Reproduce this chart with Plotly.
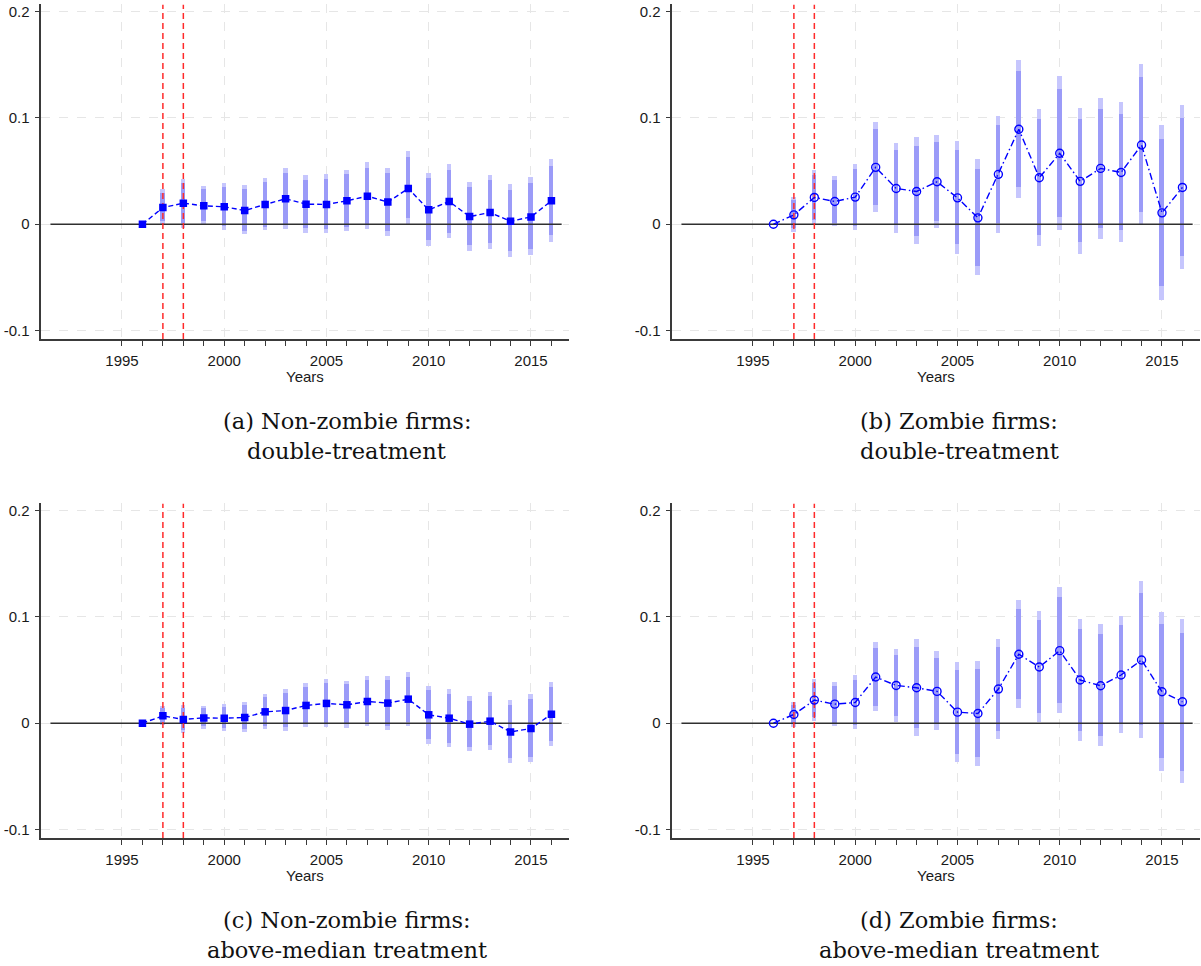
import plotly.graph_objects as go

# ---- data -------------------------------------------------------------
years = list(range(1996, 2017))
event_years = [1997, 1998]
label_years = [1995, 2000, 2005, 2010, 2015]
minor_years = [y for y in range(1996, 2017) if y % 5 != 0]
y_ticks = [-0.1, 0, 0.1, 0.2]
y_tick_text = ["-0.1", "0", "0.1", "0.2"]

# (a) Non-zombie firms: double-treatment
a_pt = [0, .0157, .0198, .0173, .0164, .0129, .0186, .0239, .0189, .0186, .022,
        .0264, .0208, .0336, .0135, .0214, .0072, .011, .0028, .0069, .022]
a_out_hi = [0, .0324, .0425, .0355, .038, .0365, .0428, .0522, .0459, .0465, .051,
            .0582, .0528, .0682, .0481, .056, .0393, .0462, .0374, .044, .0607]
a_in_hi = [0, .029, .0387, .0324, .035, .0327, .0393, .0478, .0415, .0425, .0469,
           .0528, .0478, .0629, .0428, .051, .0346, .0409, .0321, .038, .0547]
a_in_lo = [0, .0025, .0008, .0022, -.0022, -.007, -.003, -.0006, -.0044, -.0053, -.003,
           -.0006, -.007, .005, -.0154, -.0085, -.020, -.018, -.0258, -.0239, -.0107]
a_out_lo = [0, -.001, -.0038, -.0007, -.0063, -.010, -.0063, -.0047, -.0085, -.009, -.0069,
            -.005, -.0113, 0.0, -.021, -.0138, -.0258, -.0239, -.0314, -.0296, -.017]

# (b) Zombie firms: double-treatment
b_pt = [0, .0088, .0252, .0214, .0255, .0535, .0336, .0308, .0399, .0248, .006,
        .0469, .0893, .0437, .0667, .0403, .0525, .0487, .0745, .0107, .0346]
b_out_hi = [0, .0252, .0503, .045, .0566, .0959, .0761, .0814, .0836, .0777, .0607,
            .1016, .1535, .1082, .1387, .1088, .1186, .1145, .15, .0931, .1116]
b_in_hi = [0, .0223, .0462, .0412, .0519, .0893, .0692, .0733, .077, .0695, .0519,
           .0931, .1434, .0981, .127, .0981, .1082, .1035, .138, .0799, .0994]
b_in_lo = [0, -.0044, .0035, .001, -.0022, .0179, -.0013, -.0113, .0025, -.0195, -.040,
           .0003, .0349, -.0107, .006, -.017, -.0038, -.0063, .0107, -.0588, -.0305]
b_out_lo = [0, -.0075, 0.0, -.002, -.0063, .0107, -.0088, -.0195, -.0038, -.028, -.0484,
            -.0085, .0245, -.0208, -.0057, -.028, -.0142, -.0167, -.0013, -.072, -.0421]

# (c) Non-zombie firms: above-median treatment
c_pt = [0, .0069, .0035, .005, .0047, .0053, .0107, .0119, .0167, .0186, .0173,
        .0204, .0189, .0226, .0079, .0047, -.0009, .0019, -.0082, -.005, .0085]
c_out_hi = [0, .0157, .0167, .016, .0173, .0195, .027, .0318, .0377, .0412, .0396,
            .0437, .0437, .0475, .0349, .0314, .0248, .0292, .0214, .0274, .0384]
c_in_hi = [0, .0135, .0142, .0135, .0148, .0167, .0239, .0283, .034, .0371, .0362,
           .0399, .0399, .0434, .0305, .027, .0208, .0248, .0167, .0226, .0333]
c_in_lo = [0, .0003, -.0069, -.0035, -.0053, -.006, -.0028, -.0041, -.0006, 0.0, -.0016,
           .0006, -.0028, .0009, -.0154, -.0186, -.023, -.0211, -.033, -.0321, -.0167]
c_out_lo = [0, -.002, -.0094, -.006, -.0079, -.0088, -.006, -.0079, -.0041, -.0038, -.0053,
            -.0031, -.0069, -.0028, -.0198, -.023, -.027, -.0255, -.0377, -.0371, -.0217]

# (d) Zombie firms: above-median treatment
d_pt = [0, .0082, .0217, .0179, .0195, .0434, .0355, .0333, .0299, .0104, .0091,
        .0321, .0648, .0528, .0682, .0406, .0352, .0453, .0594, .0296, .0201]
d_out_hi = [0, .0195, .0412, .038, .0447, .0761, .0695, .0789, .0673, .0572, .0585,
            .0789, .1154, .1047, .1274, .0978, .0925, .1, .1336, .1044, .0972]
d_in_hi = [0, .017, .0377, .0346, .0406, .0704, .0638, .0714, .0613, .0497, .0506,
           .0714, .1072, .0965, .1179, .0884, .0836, .0915, .1217, .0925, .0846]
d_in_lo = [0, -.0013, .0053, 0.0, -.0019, .0157, .0066, -.0053, -.0009, -.0296, -.0324,
           -.0079, .022, .0088, .0186, -.0075, -.0126, -.0006, -.0025, -.0336, -.045]
d_out_lo = [0, -.0038, .0013, -.0028, -.0057, .011, .0009, -.0126, -.0072, -.0371, -.0403,
            -.0154, .0138, .0003, .0091, -.0167, -.0217, -.0094, -.0145, -.0456, -.0569]

captions = [
    ("(a) Non-zombie firms:", "double-treatment"),
    ("(b) Zombie firms:", "double-treatment"),
    ("(c) Non-zombie firms:", "above-median treatment"),
    ("(d) Zombie firms:", "above-median treatment"),
]

# ---- layout geometry (pixels) ------------------------------------------
W, H = 1201, 966
X_RANGE = [1991.054, 2016.874]
Y_RANGE = [-0.1079, 0.2066]
ZERO_SPAN = [1991.5, 2016.5]
col_px = [(41.3, 569.3), (672.3, 1200.3)]
row_px = [(2.5, 337.7), (502.5, 837.7)]
caption_x = [346.5, 959.0]

LIGHT = "#c6c6fd"
DARK = "#9b9bf8"
BLUE = "#0000ff"
AXIS_C = "#3a3a3a"
GRID_C = "#e6e6e6"
TICK_FONT = dict(family="Liberation Sans, Arial, sans-serif", size=15, color="#1a1a1a")
CAP_FONT = dict(family="DejaVu Serif, serif", size=22.5, color="#111111")

panels = [
    dict(pt=a_pt, out_lo=a_out_lo, out_hi=a_out_hi, in_lo=a_in_lo, in_hi=a_in_hi,
         symbol="square", dash="5px,3px", row=0, col=0),
    dict(pt=b_pt, out_lo=b_out_lo, out_hi=b_out_hi, in_lo=b_in_lo, in_hi=b_in_hi,
         symbol="circle-open", dash="7px,3px,1.5px,3px", row=0, col=1),
    dict(pt=c_pt, out_lo=c_out_lo, out_hi=c_out_hi, in_lo=c_in_lo, in_hi=c_in_hi,
         symbol="square", dash="5px,3px", row=1, col=0),
    dict(pt=d_pt, out_lo=d_out_lo, out_hi=d_out_hi, in_lo=d_in_lo, in_hi=d_in_hi,
         symbol="circle-open", dash="7px,3px,1.5px,3px", row=1, col=1),
]

fig = go.Figure()
annotations = []
layout_axes = {}
bar_w = 0.22

for i, p in enumerate(panels):
    n = i + 1
    xa = "x" if n == 1 else f"x{n}"
    ya = "y" if n == 1 else f"y{n}"
    x0p, x1p = col_px[p["col"]]
    y0p, y1p = row_px[p["row"]]

    # horizontal reference line at zero (drawn first, under the estimates)
    fig.add_trace(go.Scatter(
        x=ZERO_SPAN, y=[0, 0], mode="lines", line=dict(color="#303030", width=1.6),
        xaxis=xa, yaxis=ya, hoverinfo="skip"))
    # policy event markers
    for ev in event_years:
        fig.add_trace(go.Scatter(
            x=[ev, ev], y=Y_RANGE, mode="lines",
            line=dict(color="#ff2a2a", width=1.5, dash="6px,4px"),
            xaxis=xa, yaxis=ya, hoverinfo="skip"))

    # outer (light) confidence band
    fig.add_trace(go.Bar(
        x=years, y=[h - l for h, l in zip(p["out_hi"], p["out_lo"])], base=p["out_lo"],
        width=bar_w, marker=dict(color=LIGHT, line=dict(width=0)),
        xaxis=xa, yaxis=ya, hoverinfo="skip"))
    # inner (dark) confidence band
    fig.add_trace(go.Bar(
        x=years, y=[h - l for h, l in zip(p["in_hi"], p["in_lo"])], base=p["in_lo"],
        width=bar_w, marker=dict(color=DARK, line=dict(width=0)),
        xaxis=xa, yaxis=ya, hoverinfo="skip"))
    # point estimates
    if p["symbol"] == "square":
        mk = dict(symbol="square", size=7.5, color=BLUE)
    else:
        mk = dict(symbol="circle-open", size=8, color=BLUE, line=dict(width=1.4, color=BLUE))
    fig.add_trace(go.Scatter(
        x=years, y=p["pt"], mode="lines+markers",
        line=dict(color=BLUE, width=1.4, dash=p["dash"]), marker=mk,
        xaxis=xa, yaxis=ya))

    xk = "xaxis" if n == 1 else f"xaxis{n}"
    yk = "yaxis" if n == 1 else f"yaxis{n}"
    layout_axes[xk] = dict(
        domain=[x0p / W, x1p / W], anchor=ya, range=X_RANGE, fixedrange=True,
        tickmode="array", tickvals=label_years, ticktext=[str(v) for v in label_years],
        ticks="outside", ticklen=5, tickwidth=1.2, tickcolor=AXIS_C, ticklabelstandoff=2,
        showline=True, linecolor=AXIS_C, linewidth=1.6,
        showgrid=True, gridcolor=GRID_C, griddash="dash", gridwidth=1,
        minor=dict(tickmode="array", tickvals=minor_years, ticks="outside", ticklen=5,
                   tickwidth=1.2, tickcolor=AXIS_C, showgrid=False),
        zeroline=False, tickfont=TICK_FONT)
    layout_axes[yk] = dict(
        domain=[1 - y1p / H, 1 - y0p / H], anchor=xa, range=Y_RANGE, fixedrange=True,
        tickmode="array", tickvals=y_ticks, ticktext=y_tick_text,
        ticks="outside", ticklen=5, tickwidth=1.2, tickcolor=AXIS_C, ticklabelstandoff=2,
        showline=True, linecolor=AXIS_C, linewidth=1.6,
        showgrid=True, gridcolor=GRID_C, griddash="dash", gridwidth=1,
        zeroline=False, tickfont=TICK_FONT)

    # axis title
    annotations.append(dict(text="Years", xref="paper", yref="paper",
                            x=(x0p + x1p) / 2 / W, y=1 - (y1p + 37.5) / H,
                            xanchor="center", yanchor="middle", showarrow=False,
                            font=TICK_FONT))
    # caption
    cx = caption_x[p["col"]]
    l1, l2 = captions[i]
    base_y = 420 + 500 * p["row"]
    annotations.append(dict(text=l1, xref="paper", yref="paper", x=cx / W, y=1 - base_y / H,
                            xanchor="center", yanchor="middle", showarrow=False, font=CAP_FONT))
    annotations.append(dict(text=l2, xref="paper", yref="paper", x=cx / W,
                            y=1 - (base_y + 29.5) / H,
                            xanchor="center", yanchor="middle", showarrow=False, font=CAP_FONT))

fig.update_layout(
    width=W, height=H, margin=dict(l=0, r=0, t=0, b=0, pad=0),
    paper_bgcolor="white", plot_bgcolor="white", showlegend=False,
    barmode="overlay", bargap=0, annotations=annotations,
    **layout_axes)

fig.write_html("out.html")
